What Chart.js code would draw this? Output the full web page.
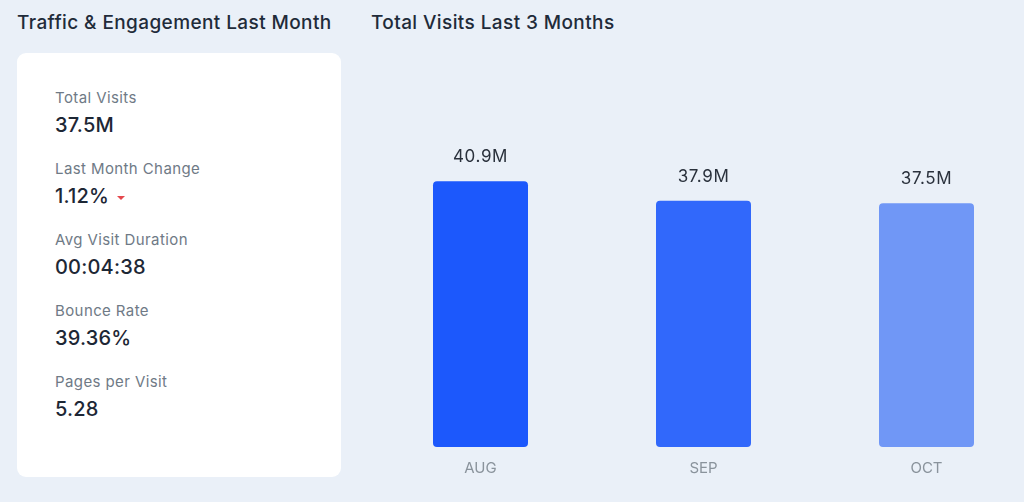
<!DOCTYPE html>
<html>
<head>
<meta charset="utf-8">
<script src="https://cdn.jsdelivr.net/npm/chart.js@4/dist/chart.umd.min.js"></script>
<style>
  html, body { margin: 0; padding: 0; }
  body {
    width: 1024px; height: 502px; overflow: hidden; position: relative;
    background: #eaf0f8;
    font-family: "Inter", "DejaVu Sans", sans-serif;
  }
  .title { position: absolute; top: 11px; font-size: 19px; letter-spacing: 0.4px; color: #1f2b3a; font-weight: 500; white-space: nowrap; }
  #card {
    position: absolute; left: 17px; top: 53px; width: 324px; height: 424px;
    background: #ffffff; border-radius: 9px;
  }
  .lbl { position: absolute; left: 38px; font-size: 15px; letter-spacing: 0.4px; color: #6f7a86; }
  .val { position: absolute; left: 38px; font-size: 20px; letter-spacing: 0.2px; color: #1d2735; font-weight: 500; }
  .down { display: inline-block; width: 0; height: 0; margin-left: 8px; vertical-align: middle;
    border-left: 4px solid transparent; border-right: 4px solid transparent; border-top: 4px solid #e5484d; }
  #chartBox { position: absolute; left: 369px; top: 100px; width: 669px; height: 389px; }
</style>
</head>
<body>
<div class="title" style="left:17px">Traffic &amp; Engagement Last Month</div>
<div class="title" style="left:371px">Total Visits Last 3 Months</div>
<div id="card"></div>
<div id="chartBox"><canvas id="visitsChart"></canvas></div>

<script>
// stats shown in the left card
const statLabels = ["Total Visits", "Last Month Change", "Avg Visit Duration", "Bounce Rate", "Pages per Visit"];
const statValues = ["37.5M", "1.12%", "00:04:38", "39.36%", "5.28"];

// bar chart data (millions of visits)
const months = ["AUG", "SEP", "OCT"];
const visits = [40.9, 37.9, 37.5];
const barColors = ["#1c58fc", "#3168fb", "#7097f6"];

function fillCard() {
    let card = document.getElementById("card");
    statLabels.forEach(function (e, i) {
        let top = 35 + i * 71;
        let lbl = document.createElement("div");
        lbl.className = "lbl";
        lbl.style.top = top + "px";
        lbl.textContent = e;
        card.appendChild(lbl);
        let val = document.createElement("div");
        val.className = "val";
        val.style.top = (top + 25) + "px";
        val.textContent = statValues[i];
        if (i === 1) {
            let arrow = document.createElement("span");
            arrow.className = "down";
            val.appendChild(arrow);
        }
        card.appendChild(val);
    });
}

// draws the "40.9M" style labels above each bar
const valueLabels = {
    id: "valueLabels",
    afterDatasetsDraw(chart) {
        let ctx = chart.ctx;
        let meta = chart.getDatasetMeta(0);
        ctx.save();
        ctx.font = "17px Inter, sans-serif";
        ctx.letterSpacing = "0.6px";
        ctx.fillStyle = "#2a313c";
        ctx.textAlign = "center";
        ctx.textBaseline = "middle";
        meta.data.forEach(function (bar, i) {
            ctx.fillText(visits[i].toFixed(1) + "M", bar.x, bar.y - 24);
        });
        ctx.restore();
    }
};

fillCard();

new Chart("visitsChart", {
    type: "bar",
    data: {
        labels: months,
        datasets: [{
            data: visits,
            backgroundColor: barColors,
            borderRadius: 4,
            borderSkipped: false,
            categoryPercentage: 1,
            barPercentage: 0.426
        }]
    },
    options: {
        responsive: true,
        maintainAspectRatio: false,
        animation: false,
        layout: { padding: { top: 22, bottom: 0, left: 0, right: 0 } },
        plugins: {
            legend: { display: false },
            tooltip: { enabled: false }
        },
        scales: {
            x: {
                grid: { display: false, drawTicks: false },
                border: { display: false },
                ticks: { color: "#8a939c", padding: 12, font: { size: 15, family: "Inter" } }
            },
            y: {
                display: false,
                min: 0,
                max: 50
            }
        }
    },
    plugins: [valueLabels]
});
</script>
</body>
</html>
